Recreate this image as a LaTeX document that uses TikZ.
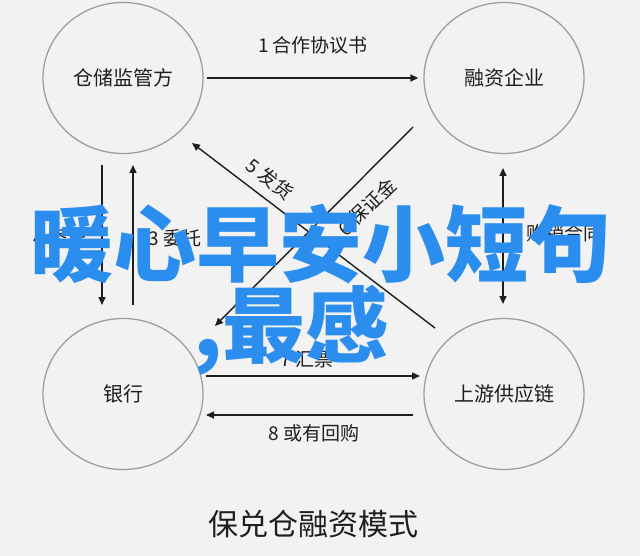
\documentclass[tikz,border=0pt]{standalone}
\usepackage{fontspec}
\setmainfont{Noto Sans CJK SC}
\newfontfamily\cjk{Noto Sans CJK SC}
\usetikzlibrary{arrows.meta,shapes.geometric,calc}
\definecolor{bgc}{HTML}{F2F2F2}
\definecolor{ringc}{HTML}{9E9E9E}
\definecolor{linec}{HTML}{1E1E1E}
\definecolor{wmc}{HTML}{2B8EEE}
\begin{document}
\begin{tikzpicture}[x=1pt,y=-1pt,
  party/.style={ellipse,draw=ringc,line width=1.3pt,minimum width=160pt,minimum height=151pt,inner sep=0pt,
     font=\fontsize{20}{22}\selectfont\cjk,text=linec},
  flow/.style={draw=linec,line width=1.4pt,-{Triangle[length=8pt,width=7pt]}},
  flowlabel/.style={font=\fontsize{19}{21}\selectfont\cjk,text=linec,inner sep=1pt},
  wm/.style={font=\fontsize{83}{90}\selectfont\cjk\bfseries,text=wmc,inner sep=0pt}]
\fill[bgc] (0,0) rectangle (640,556);
\useasboundingbox (0,0) rectangle (640,556);
\node[party] (A) at (123,78) {仓储监管方};
\node[party] (B) at (504,78) {融资企业};
\node[party] (C) at (123,394) {银行};
\node[party] (D) at (504,394) {上游供应链};
% top
\draw[flow,shorten <=3pt,shorten >=5pt] (A.east) -- (B.west);
\node[flowlabel] (l1) at (313,45) {1 合作协议书};
% left verticals
\draw[flow] ($(A)+(-21,87)$) coordinate (a1) -- ($(C)+(-21,-89)$) coordinate (c1);
\draw[flow] ($(C)+(10,-89)$) coordinate (c2) -- ($(A)+(10,87)$) coordinate (a2);
\node[flowlabel] (l4) at (60,238) {4 委托};
\node[flowlabel] (l3) at (175,238) {3 委托};
% right vertical
\draw[flow,{Triangle[length=8pt,width=7pt]}-{Triangle[length=8pt,width=7pt]}] ($(B)+(-1,90)$) coordinate (b3) -- ($(D)+(-1,-90)$) coordinate (d3);
\node[flowlabel] (l2) at (557,233) {2 购销合同};
% diagonals
\draw[flow] ($(D)+(-69,-66)$) coordinate (d5) -- ($(A)+(69,65)$) coordinate (a5);
\node[flowlabel,rotate=-38] (l5) at (270,179) {5 发货};
\draw[flow] ($(B)+(-91,49)$) coordinate (b6) -- ($(C)+(92,-68)$) coordinate (c6);
\node[flowlabel,rotate=44] (l6) at (367,207) {6 保证金};
% bottom
\draw[flow] ($(C)+(83,-18)$) coordinate (c7) -- ($(D)+(-84,-18)$) coordinate (d7);
\node[flowlabel] (l7) at (307,359) {7 汇票};
\draw[flow] ($(D)+(-91,21)$) coordinate (d8) -- ($(C)+(83,21)$) coordinate (c8);
\node[flowlabel] (l8) at (314,433) {8 或有回购};
% title
\node[font=\fontsize{30}{34}\selectfont\cjk,text=linec] (title) at (313,524) {保兑仓融资模式};
% overlay text
\node[wm] (wm1) at (321,244) {暖心早安小短句};
\node[wm] (wm2) at (291,330) {,最感};
\end{tikzpicture}
\end{document}
